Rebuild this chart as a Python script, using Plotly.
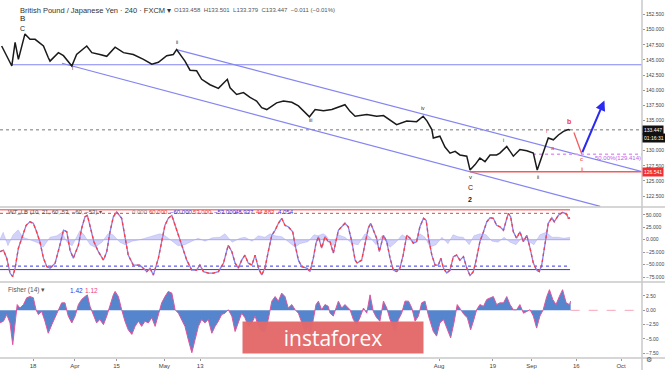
import pandas as pd
import plotly.graph_objects as go
from plotly.subplots import make_subplots

BASE = pd.Timestamp("2019-03-18")

# ---- price path (day offset from 2019-03-18, price) ----
price_days = [-10.5, -7.1, -6.0, -4.9, -2.7, -1.0, 0.7, 3.5, 5.1, 5.7, 8.5, 10.2, 13.0, 14.6, 18.0, 19.7,
              22.4, 24.7, 27.5, 30.3, 33.6, 37.0, 39.8, 42.0, 44.8, 47.0, 48.1, 49.8, 50.9, 52.6, 54.8,
              56.5, 59.3, 62.1, 65.1, 66.0, 68.2, 70.5, 72.7, 74.9, 76.6, 78.3, 81.6, 83.9, 86.7, 88.9,
              91.1, 92.6, 94.5, 97.3, 100.1, 101.7, 104.5, 106.2, 107.9, 111.8, 115.1, 117.4, 119.6,
              121.8, 125.2, 128.5, 130.7, 132.0, 133.6, 134.1, 136.3, 138.0, 139.7, 141.4, 143.0, 145.3,
              146.4, 148.1, 149.7, 151.4, 153.1, 155.3, 156.4, 158.7, 160.9, 163.1, 165.4, 167.6, 168.9,
              170.4, 171.5, 172.6, 174.3, 176.0, 177.7, 179.3, 179.9]
price_vals = [147.3, 144.0, 147.9, 145.1, 149.3, 148.4, 148.4, 147.3, 145.4, 144.8, 146.2, 145.7, 144.0,
              145.9, 147.3, 146.2, 145.9, 145.6, 147.1, 146.2, 145.9, 145.1, 144.3, 144.6, 145.7, 145.9,
              146.7, 145.5, 144.8, 143.3, 143.2, 141.8, 140.9, 140.3, 141.8, 140.4, 139.3, 139.6, 138.8,
              138.2, 137.1, 136.8, 137.9, 138.2, 138.0, 137.4, 136.3, 135.6, 136.8, 136.6, 136.8, 137.1,
              137.6, 136.5, 135.7, 136.0, 135.7, 135.8, 135.1, 134.3, 134.9, 134.8, 135.7, 134.9, 133.5,
              132.1, 132.4, 130.6, 129.6, 129.9, 129.3, 129.1, 126.8, 127.7, 128.8, 128.2, 129.3, 129.3,
              129.6, 130.7, 129.1, 130.2, 130.0, 129.6, 126.8, 129.1, 130.5, 132.1, 131.8, 132.6, 133.2,
              133.5, 133.4]

last_price = 133.447
low_level = 126.541
fib_level = 129.414
horiz_level = 144.2

# channel / projection lines (day offset, price)
upper_ch_days = [48.1, 204.4]
upper_ch_vals = [146.7, 126.5]
lower_ch_days = [9.7, 190.0]
lower_ch_vals = [144.45, 120.8]
proj_red_days = [181.2, 183.8]
proj_red_vals = [133.0, 129.5]
arrow_days = [183.8, 191.4]
arrow_vals = [129.5, 138.3]

# ---- WT oscillator ----
wt_days = [-11.1, -9.9, -8.8, -7.7, -6.8, -6.0, -4.9, -4.1, -3.2, -2.3, -1.0, 0.1, 1.2, 2.3, 3.5, 4.6, 5.7,
           7.4, 9.0, 10.2, 11.3, 12.4, 13.5, 15.2, 16.3, 17.4, 18.2, 19.1, 20.4, 21.9, 23.6, 24.7, 25.8,
           26.9, 28.0, 29.7, 30.8, 31.9, 33.6, 35.8, 38.1, 39.2, 40.3, 42.0, 43.1, 44.2, 45.3, 46.5, 47.6,
           48.7, 49.8, 51.5, 53.2, 54.8, 55.9, 57.1, 58.7, 60.4, 62.1, 63.8, 65.4, 66.6, 67.7, 68.8, 69.9,
           71.0, 72.1, 73.3, 74.4, 75.5, 76.6, 77.7, 78.8, 80.0, 81.1, 82.2, 83.3, 84.4, 85.5, 87.0, 87.8,
           88.9, 90.0, 91.7, 92.8, 93.9, 94.8, 95.6, 96.7, 97.8, 98.9, 99.5, 100.6, 101.7, 102.3, 103.4,
           104.5, 105.6, 106.8, 107.9, 108.6, 110.1, 111.2, 112.3, 113.1, 114.0, 115.1, 116.0, 116.8,
           117.4, 118.5, 119.6, 120.7, 121.8, 122.9, 124.0, 125.2, 126.3, 127.4, 128.5, 129.6, 130.8,
           131.7, 132.5, 133.6, 134.7, 135.8, 136.6, 137.5, 138.6, 139.7, 140.8, 141.9, 143.0, 144.2,
           145.3, 146.4, 147.5, 148.6, 149.7, 150.9, 152.0, 153.1, 154.2, 155.3, 156.4, 157.6, 158.5,
           159.2, 160.0, 160.9, 162.0, 163.1, 164.3, 165.4, 166.5, 167.6, 168.7, 169.6, 170.4, 171.5,
           172.6, 173.8, 174.6, 176.0, 177.4, 178.8, 179.3, 179.9]
wt_vals = [-24, -21, -37, -67, -74, -57, -17, -4, 13, 29, 36, 33, 16, -4, -37, -54, -57, -47, -11, 19, 16,
           -21, -37, -11, 23, 46, 49, 29, -4, -24, -41, -24, 16, 46, 56, 43, 3, -31, -51, -51, -64, -57,
           -71, -37, -4, 29, 43, 49, 29, 9, -11, -41, -61, -61, -51, -64, -67, -67, -64, -47, -11, -24,
           -47, -57, -41, -31, -47, -51, -31, -57, -71, -57, -24, 9, 19, 33, 43, 29, 26, 16, -11, -41,
           -54, -57, -64, -37, -7, 6, -17, 6, -4, -4, -27, 3, 19, 26, 33, 26, -4, -41, -47, -41, -11, 23,
           33, 19, 3, -24, -4, 9, -4, -37, -61, -64, -57, -31, 9, 3, -7, -4, 26, 43, 39, 3, -31, -51, -51,
           -37, -57, -67, -61, -34, -31, -41, -34, -57, -72, -64, -37, -4, 16, 36, 44, 43, 29, 26, 19, 36,
           53, 46, 16, 3, 16, -4, 9, -17, -47, -61, -64, -51, -4, 33, 44, 36, 49, 55, 51, 43, 44]

hist_days = [-11.1, -10.0, -8.4, -6.7, -5.0, -3.4, -1.0, 2.3, 3.4, 5.7, 8.0, 9.7, 11.4, 13.1, 15.7, 17.1,
             19.1, 20.8, 23.1, 25.1, 26.8, 29.1, 30.8, 33.2, 35.8, 38.5, 40.9, 42.5, 44.2, 46.6, 48.6,
             50.9, 52.6, 55.3, 57.6, 60.0, 62.6, 64.3, 66.7, 69.3, 71.0, 73.4, 75.4, 77.7, 79.4, 81.1,
             83.4, 86.1, 87.8, 89.4, 92.1, 94.1, 95.5, 97.2, 98.2, 100.5, 102.2, 104.5, 106.9, 108.9,
             111.2, 112.9, 114.9, 116.9, 119.6, 121.6, 123.6, 125.6, 127.6, 129.6, 131.3, 133.0, 135.0,
             137.0, 139.0, 140.7, 142.4, 144.1, 146.1, 147.7, 149.7, 151.8, 153.8, 155.8, 157.8, 159.8,
             161.8, 163.8, 165.8, 167.8, 169.8, 171.9, 173.9, 175.9, 177.9, 179.9]
hist_vals = [0, 15, -12, 10, 20, 5, 0, -8, -15, 5, 8, 15, -5, -12, 18, 10, -10, -15, -5, 12, 10, -5, -10,
             -3, 0, 5, 10, 12, 8, -3, -12, -10, -5, 3, -3, 4, 5, 12, -5, 3, 5, -3, 8, 5, 12, 8, 6, -8,
             -15, -8, -4, 10, 8, 12, 8, -12, 10, 5, -8, -10, 12, 5, -10, 8, -15, -5, 10, 3, -5, 12, 5,
             -15, -10, 5, -8, 10, 6, 5, -10, 8, 12, 10, -3, -5, 5, -5, -10, 5, -3, -10, 10, 15, 5, 5, 3, 5]

wt_levels = [60, 53, -53, -60]

# ---- Fisher transform ----
fisher_days = [-11.1, -9.9, -8.8, -7.7, -6.8, -6.0, -5.3, -4.4, -3.2, -2.1, -1.0, 0.1, 1.0, 1.8, 2.9, 4.0,
               5.1, 6.3, 7.4, 8.5, 9.6, 10.7, 11.8, 13.0, 14.1, 15.2, 16.3, 17.4, 18.2, 19.1, 20.2, 21.3,
               22.4, 23.6, 24.7, 25.8, 26.9, 27.5, 28.6, 29.7, 30.8, 31.9, 33.1, 34.2, 35.3, 36.4, 37.5,
               38.6, 39.8, 40.9, 42.0, 43.1, 44.2, 45.3, 46.5, 47.6, 48.7, 49.8, 50.9, 52.0, 53.2, 54.3,
               55.4, 56.5, 57.6, 58.7, 59.9, 61.0, 62.1, 63.2, 64.3, 65.4, 66.6, 67.7, 68.8, 69.9, 71.0,
               72.1, 73.3, 74.4, 75.5, 76.6, 77.7, 78.8, 80.0, 81.1, 82.2, 83.3, 84.4, 85.5, 86.7, 87.8,
               88.9, 90.0, 91.1, 92.2, 92.8, 93.9, 94.8, 95.6, 96.7, 97.8, 98.9, 99.5, 100.6, 102.3,
               103.4, 104.5, 106.2, 107.3, 108.4, 109.5, 110.7, 111.8, 112.9, 114.0, 115.1, 116.2, 117.4,
               118.5, 119.6, 121.3, 122.4, 123.5, 124.6, 125.8, 126.9, 128.0, 129.1, 130.2, 131.3, 132.5,
               134.1, 135.2, 136.3, 137.5, 138.8, 139.9, 141.0, 142.1, 143.3, 144.4, 145.5, 146.6, 147.7,
               148.6, 149.7, 150.9, 152.0, 153.1, 154.2, 155.3, 156.4, 157.6, 158.7, 159.8, 160.9, 162.0,
               163.1, 164.3, 165.4, 166.5, 167.6, 168.7, 169.8, 170.9, 172.1, 173.0, 174.1, 175.2, 176.3,
               177.4, 178.6, 179.7, 180.1]
fisher_vals = [-2.2, -1.9, -0.75, -2.2, -6.0, -2.2, 1.0, 0.4, 1.0, 2.2, 2.4, 2.2, 0.1, -0.75, -0.2, -1.9,
               -4.0, -2.5, -1.3, 0.1, 1.3, 1.3, -1.0, -2.2, -1.0, 1.0, 1.9, 2.4, 2.7, 0.7, -0.75, -2.2,
               -1.6, -2.5, -1.0, 1.0, 2.7, 3.3, 2.4, 0.1, -1.9, -3.4, -4.2, -2.8, -1.9, -2.8, -1.9, -2.2,
               -1.3, -2.8, -0.5, 1.3, 2.4, 3.3, 3.0, 0.1, -0.5, -1.6, -2.8, -5.1, -7.4, -5.1, -2.8, -1.6,
               -2.2, -1.6, -4.0, -2.8, -1.9, -0.75, -0.5, 0.1, -1.0, -3.7, -2.2, -0.5, -1.3, -2.8, -2.2,
               -1.0, -2.8, -3.7, -3.7, -1.6, 1.6, 2.4, 1.6, 3.0, 2.4, 0.4, 1.0, 0.1, -0.5, -2.2, -3.7,
               -2.8, -4.5, -1.6, 1.0, 1.6, 0.1, 1.0, 0.7, -0.5, -1.0, 1.6, 0.4, 1.0, 0.1, -1.6, -2.5, -1.3,
               0.4, -0.5, 2.7, -0.2, -1.3, -1.9, 1.6, 0.4, -1.6, -3.7, -1.6, -0.5, 1.6, 1.6, 0.4, -1.9,
               -1.0, 1.3, 1.6, -1.0, -3.7, -4.5, -2.2, -1.6, -3.4, -4.8, -2.2, 1.0, 0.1, -0.75, -1.3, -3.4,
               -1.6, 0.1, 1.0, 0.7, 1.9, 2.2, 2.4, 1.0, 1.3, 1.3, 2.4, 1.0, 0.1, 0.1, 1.0, -0.5, -0.2, 0.1,
               -1.0, -3.1, -1.0, 0.1, 2.4, 3.6, 1.9, 1.0, 2.4, 3.6, 1.3, 1.0, 1.6]

# ---- axes ----
x_tick_days = [0, 14, 28, 44, 56, 136, 154, 167, 182, 197]
x_tick_text = ["18", "Apr", "15", "May", "13", "Aug", "19", "Sep", "16", "Oct"]
price_ticks = [122.5, 125, 127.5, 130, 135, 137.5, 140, 142.5, 145, 147.5, 150, 152.5]
wt_ticks = [50, 25, 0, -25, -50, -75]
fisher_ticks = [2.5, 0, -2.5, -5, -7.5]


def D(d):
    if isinstance(d, (list, tuple)):
        return [BASE + pd.Timedelta(days=v) for v in d]
    return BASE + pd.Timedelta(days=d)


X0, X1 = -11.06, 204.0
LAV = "#8585f2"
RED = "#f23b3b"
BLUE = "#3535e8"
FONT = "Liberation Sans, Arial"

fig = make_subplots(rows=3, cols=1, shared_xaxes=True, vertical_spacing=0,
                    row_heights=[207 / 358, 75 / 358, 76 / 358])

# price panel
fig.add_trace(go.Scatter(x=D([X0, X1]), y=[last_price] * 2, mode="lines",
                         line=dict(color="#777", width=1, dash="dot")), 1, 1)
fig.add_trace(go.Scatter(x=D([-7.1, X1]), y=[horiz_level] * 2, mode="lines",
                         line=dict(color=LAV, width=1.2)), 1, 1)
fig.add_trace(go.Scatter(x=D(upper_ch_days), y=upper_ch_vals, mode="lines",
                         line=dict(color=LAV, width=1.2)), 1, 1)
fig.add_trace(go.Scatter(x=D(lower_ch_days), y=lower_ch_vals, mode="lines",
                         line=dict(color=LAV, width=1.2)), 1, 1)
fig.add_trace(go.Scatter(x=D([146.4, X1]), y=[low_level] * 2, mode="lines",
                         line=dict(color="#f25c5c", width=1.5)), 1, 1)
fig.add_trace(go.Scatter(x=D([167.5, X1]), y=[fib_level] * 2, mode="lines",
                         line=dict(color="#e09af2", width=1.3, dash="dot")), 1, 1)
fig.add_trace(go.Scatter(x=D(price_days), y=price_vals, mode="lines",
                         line=dict(color="#1a1a1a", width=1.5)), 1, 1)
fig.add_trace(go.Scatter(x=D(proj_red_days), y=proj_red_vals, mode="lines",
                         line=dict(color="#f25c5c", width=1.3)), 1, 1)

# WT panel
fig.add_trace(go.Scatter(x=D(hist_days), y=hist_vals, mode="lines", fill="tozeroy",
                         fillcolor="rgba(130,130,240,0.35)", line=dict(color="rgba(130,130,240,0.5)", width=0.5)), 2, 1)
fig.add_trace(go.Scatter(x=D([X0, 179.9]), y=[0, 0], mode="lines",
                         line=dict(color="rgba(130,130,240,0.6)", width=1)), 2, 1)
for lv in wt_levels:
    col = RED if lv > 0 else BLUE
    dash = "solid" if abs(lv) == 60 else "dot"
    fig.add_trace(go.Scatter(x=D([X0, 179.9]), y=[lv, lv], mode="lines",
                             line=dict(color=col, width=1, dash=dash)), 2, 1)
fig.add_trace(go.Scatter(x=D(wt_days), y=wt_vals, mode="lines",
                         line=dict(color=LAV, width=1.3)), 2, 1)
fig.add_trace(go.Scatter(x=D(wt_days), y=wt_vals, mode="lines",
                         line=dict(color="#ff3b3b", width=1.3, dash="dot")), 2, 1)

# Fisher panel
fig.add_trace(go.Scatter(x=D([180.1, X1]), y=[0, 0], mode="lines",
                         line=dict(color="#f7a3b8", width=1, dash="dash")), 3, 1)
fig.add_trace(go.Scatter(x=D(fisher_days), y=fisher_vals, mode="lines", fill="tozeroy",
                         fillcolor="#5585cc", line=dict(color="#e0559f", width=1)), 3, 1)

fig.update_traces(hoverinfo="skip", showlegend=False)

axis_font = dict(family=FONT, size=5, color="#444")
fig.update_xaxes(range=[D(X0), D(X1)], showgrid=False, zeroline=False, showline=False)
fig.update_xaxes(row=3, col=1, tickvals=D(x_tick_days), ticktext=x_tick_text, ticks="outside",
                 ticklen=2, tickcolor="#999", tickfont=dict(family=FONT, size=6, color="#444"),
                 showticklabels=True)
fig.update_yaxes(side="right", showgrid=False, zeroline=False, showline=False, ticks="outside",
                 ticklen=2, tickcolor="#999", tickfont=axis_font)
fig.update_yaxes(row=1, col=1, range=[120.7, 154.9], tickvals=price_ticks,
                 ticktext=[f"{v:.3f}" for v in price_ticks])
fig.update_yaxes(row=2, col=1, range=[-84.9, 65.7], tickvals=wt_ticks,
                 ticktext=[f"{v:.3f}".replace("-", "\u2212") for v in wt_ticks])
fig.update_yaxes(row=3, col=1, range=[-8.32, 4.94], tickvals=fisher_ticks,
                 ticktext=[f"{v:.2f}".replace("-", "\u2212") for v in fisher_ticks])

W_PLOT, H_PLOT = 642, 358


def px(xp):
    return xp / W_PLOT


def py(yp):
    return (H_PLOT - yp) / H_PLOT


shapes = []
grey = "#c9c9c9"
for yp in [207, 282, 358]:
    shapes.append(dict(type="line", xref="paper", yref="paper", x0=0, x1=px(665), y0=py(yp), y1=py(yp),
                       line=dict(color=grey, width=1.5)))
shapes.append(dict(type="line", xref="paper", yref="paper", x0=1, x1=1, y0=py(370), y1=py(0),
                   line=dict(color=grey, width=1.5)))

ann = []


def label(d, p, text, color="#222", size=5, bold=False, row=1):
    t = f"<b>{text}</b>" if bold else text
    yref = {1: "y", 2: "y2", 3: "y3"}[row]
    ann.append(dict(x=D(d), y=p, xref="x", yref=yref, text=t, showarrow=False,
                    font=dict(family=FONT, size=size, color=color)))


label(-3.4, 151.8, "B", size=8)
label(-3.4, 150.2, "C", size=7)
label(13.1, 143.7, "i")
label(48.2, 147.9, "ii")
label(92.8, 135.0, "iii")
label(130.7, 137.1, "iv")
label(146.4, 125.6, "v", size=6)
label(146.4, 123.9, "C", size=7)
label(146.4, 121.9, "2", size=7, bold=True)
label(157.7, 131.8, "i")
label(169.1, 125.6, "ii")
label(172.1, 133.3, "i", color=RED)
label(174.2, 130.5, "a", color=RED, size=6)
label(179.7, 134.8, "b", color=RED, size=7, bold=True)
label(183.8, 128.6, "c", color=RED, size=6)
label(183.8, 127.0, "ii", color=RED)
ann.append(dict(x=D(196), y=fib_level - 0.55, xref="x", yref="y", text="50.00%(129.414)", showarrow=False,
                font=dict(family=FONT, size=6, color="#c060e8")))
# projection arrow
ann.append(dict(x=D(arrow_days[1]), y=arrow_vals[1], ax=D(arrow_days[0]), ay=arrow_vals[0],
                xref="x", yref="y", axref="x", ayref="y", text="", showarrow=True,
                arrowhead=2, arrowsize=1, arrowwidth=2, arrowcolor="#2a2af0"))

# price-axis labels
ann.append(dict(x=1, y=last_price, xref="paper", yref="y", xanchor="left", text="133.447", showarrow=False,
                bgcolor="#111", borderpad=1, font=dict(family=FONT, size=5, color="white")))
ann.append(dict(x=1, y=last_price, yshift=-8, xref="paper", yref="y", xanchor="left", text="01:16:31",
                showarrow=False, bgcolor="#111", borderpad=1,
                font=dict(family=FONT, size=5, color="white")))
ann.append(dict(x=1, y=low_level, xref="paper", yref="y", xanchor="left", text="126.541", showarrow=False,
                bgcolor="#f03030", borderpad=1, font=dict(family=FONT, size=5, color="white")))


def ptext(xp, yp, text, color="#444", size=6.5):
    ann.append(dict(x=px(xp), y=py(yp), xref="paper", yref="paper", xanchor="left", yanchor="middle",
                    text=text, showarrow=False, font=dict(family=FONT, size=size, color=color)))


ptext(18, 10, "British Pound / Japanese Yen \u00b7 240 \u00b7 FXCM \u25be", color="#333", size=7.5)
ptext(172, 10, "O133.458  H133.501  L133.379  C133.447  \u22120.011 (\u22120.01%)", color="#555", size=6)
ptext(6, 212, "WT_LB (10, 21, 60, 53, \u221260, \u221253) \u25be", color="#555", size=6)
for xp, t, c in [(130, "0.000", "#888"), (147, "60.000", RED), (168, "\u221260.000", BLUE), (191, "53.000", RED),
                 (212, "\u221253.000", BLUE), (233, "48.937", BLUE), (254, "44.883", RED), (276, "4.054", BLUE)]:
    ptext(xp, 212, t, color=c, size=6)
ptext(6, 290, "Fisher (14) \u25be", color="#555", size=6.5)
ptext(68, 290, "1.42", color=BLUE, size=6.5)
ptext(83, 290, "1.12", color="#ee3f7a", size=6.5)
# watermark
ann.append(dict(x=px(333), y=py(353.5), xref="paper", yref="paper", text="instaforex", showarrow=False,
                width=178, height=29, bgcolor="#e46a6a", opacity=0.97,
                font=dict(family="Open Sans, Lato, sans-serif", size=21, color="white")))
ann.append(dict(x=px(654), y=py(365.5), xref="paper", yref="paper", text="\u2699", showarrow=False,
                font=dict(family="DejaVu Sans", size=7, color="#555")))

fig.update_layout(width=665, height=370, margin=dict(l=0, r=23, t=0, b=12),
                  paper_bgcolor="white", plot_bgcolor="white", shapes=shapes, annotations=ann,
                  showlegend=False)
fig.write_html("out.html", config={"displayModeBar": False},
               post_script="document.body.style.margin='0px';document.body.style.overflow='hidden';")
